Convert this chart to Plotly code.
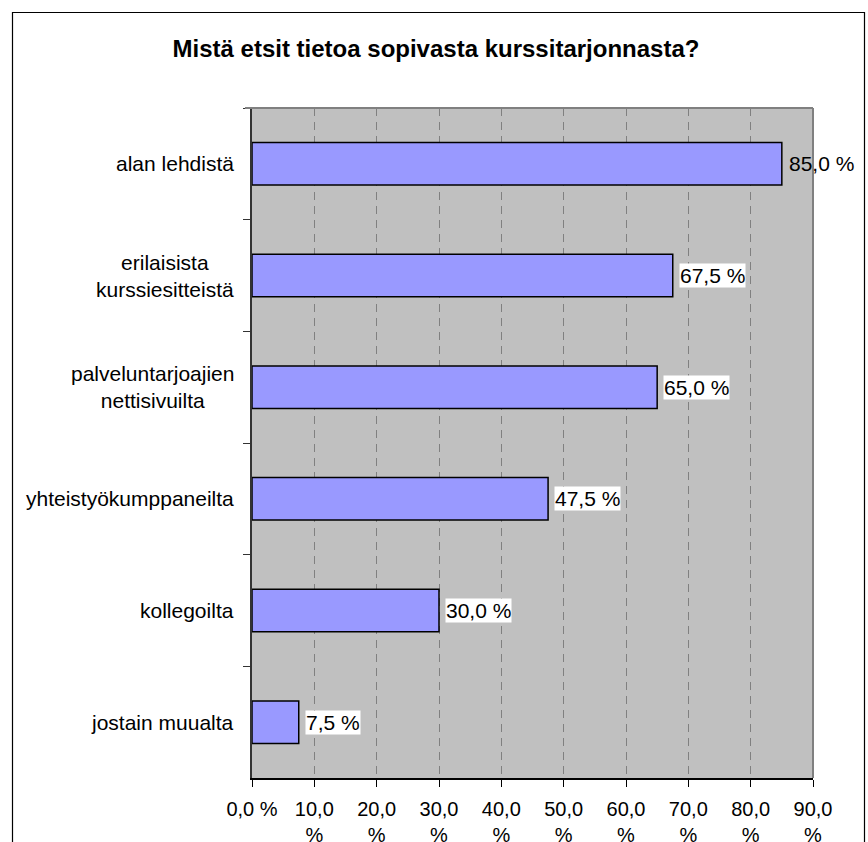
import plotly.graph_objects as go

title = "Mistä etsit tietoa sopivasta kurssitarjonnasta?"
categories = [
    "alan lehdistä",
    "erilaisista<br>kurssiesitteistä",
    "palveluntarjoajien<br>nettisivuilta",
    "yhteistyökumppaneilta",
    "kollegoilta",
    "jostain muualta",
]
values = [85.0, 67.5, 65.0, 47.5, 30.0, 7.5]
x_tickvals = [0, 10, 20, 30, 40, 50, 60, 70, 80, 90]
x_ticktext = ["0,0 %", "10,0<br>%", "20,0<br>%", "30,0<br>%", "40,0<br>%",
              "50,0<br>%", "60,0<br>%", "70,0<br>%", "80,0<br>%", "90,0<br>%"]

W, H = 868, 842
L, R, T, B = 252, 813, 108, 778
FONT = "Liberation Sans, Arial, sans-serif"

def px_x(p):
    return (p - L) / (R - L)

def px_y(p):
    return (B - p) / (B - T)

fig = go.Figure()
fig.add_trace(go.Bar(
    x=values, y=categories, orientation="h", width=0.38,
    marker=dict(color="#9999FF", line=dict(color="#000000", width=1.5)),
    hoverinfo="skip",
))

annotations = []
for i, (c, v) in enumerate(zip(categories, values)):
    annotations.append(dict(
        x=v, y=c, xref="x", yref="y", xanchor="left", yanchor="middle",
        xshift=6, showarrow=False, text=f"{v:.1f}".replace(".", ",") + " %",
        font=dict(family=FONT, size=21, color="#000000"),
        bgcolor="rgba(0,0,0,0)" if i == 0 else "#FFFFFF", borderpad=0,
    ))
    annotations.append(dict(
        x=px_x(236), y=c, xref="paper", yref="y", xanchor="right", yanchor="middle",
        align="center", showarrow=False, text=c,
        font=dict(family=FONT, size=21, color="#000000"),
    ))

shapes = [
    # outer chart frame
    dict(type="rect", xref="paper", yref="paper",
         x0=px_x(12.5), x1=px_x(864.5), y0=px_y(880), y1=px_y(12.5),
         line=dict(color="#000000", width=1.2), layer="below"),
    # top and right plot edges (gray)
    dict(type="line", xref="paper", yref="paper", x0=px_x(245), x1=1, y0=1, y1=1,
         line=dict(color="#808080", width=2)),
    dict(type="line", xref="paper", yref="paper", x0=1, x1=1, y0=0, y1=1,
         line=dict(color="#808080", width=2)),
]

fig.update_layout(
    width=W, height=H,
    margin=dict(l=L, r=W - R, t=T, b=H - B, autoexpand=False),
    paper_bgcolor="#FFFFFF", plot_bgcolor="#C0C0C0",
    showlegend=False, bargap=0.6,
    title=dict(text=f"<b>{title}</b>", x=436 / W, xanchor="center",
               y=1 - 49 / H, yanchor="middle",
               font=dict(family=FONT, size=24, color="#000000")),
    annotations=annotations, shapes=shapes,
    font=dict(family=FONT, size=21, color="#000000"),
)
fig.update_layout(title_xref="container")
fig.update_xaxes(
    range=[0, 90], tickvals=x_tickvals, ticktext=x_ticktext, automargin=False,
    showgrid=True, gridcolor="#808080", gridwidth=1, griddash="8px,6px",
    zeroline=False, showline=True, linecolor="#000000", linewidth=2,
    ticks="outside", ticklen=7, tickcolor="#000000", tickwidth=1,
    tickfont=dict(family=FONT, size=20, color="#000000"), ticklabelstandoff=5,
)
fig.update_yaxes(
    type="category", categoryorder="array", categoryarray=categories,
    range=[5.5, -0.5], showgrid=False, zeroline=False, automargin=False,
    showline=True, linecolor="#333333", linewidth=2,
    ticks="outside", tickson="boundaries", ticklen=7, tickcolor="#333333",
    tickwidth=1, showticklabels=False,
)

fig.write_html("out.html")
